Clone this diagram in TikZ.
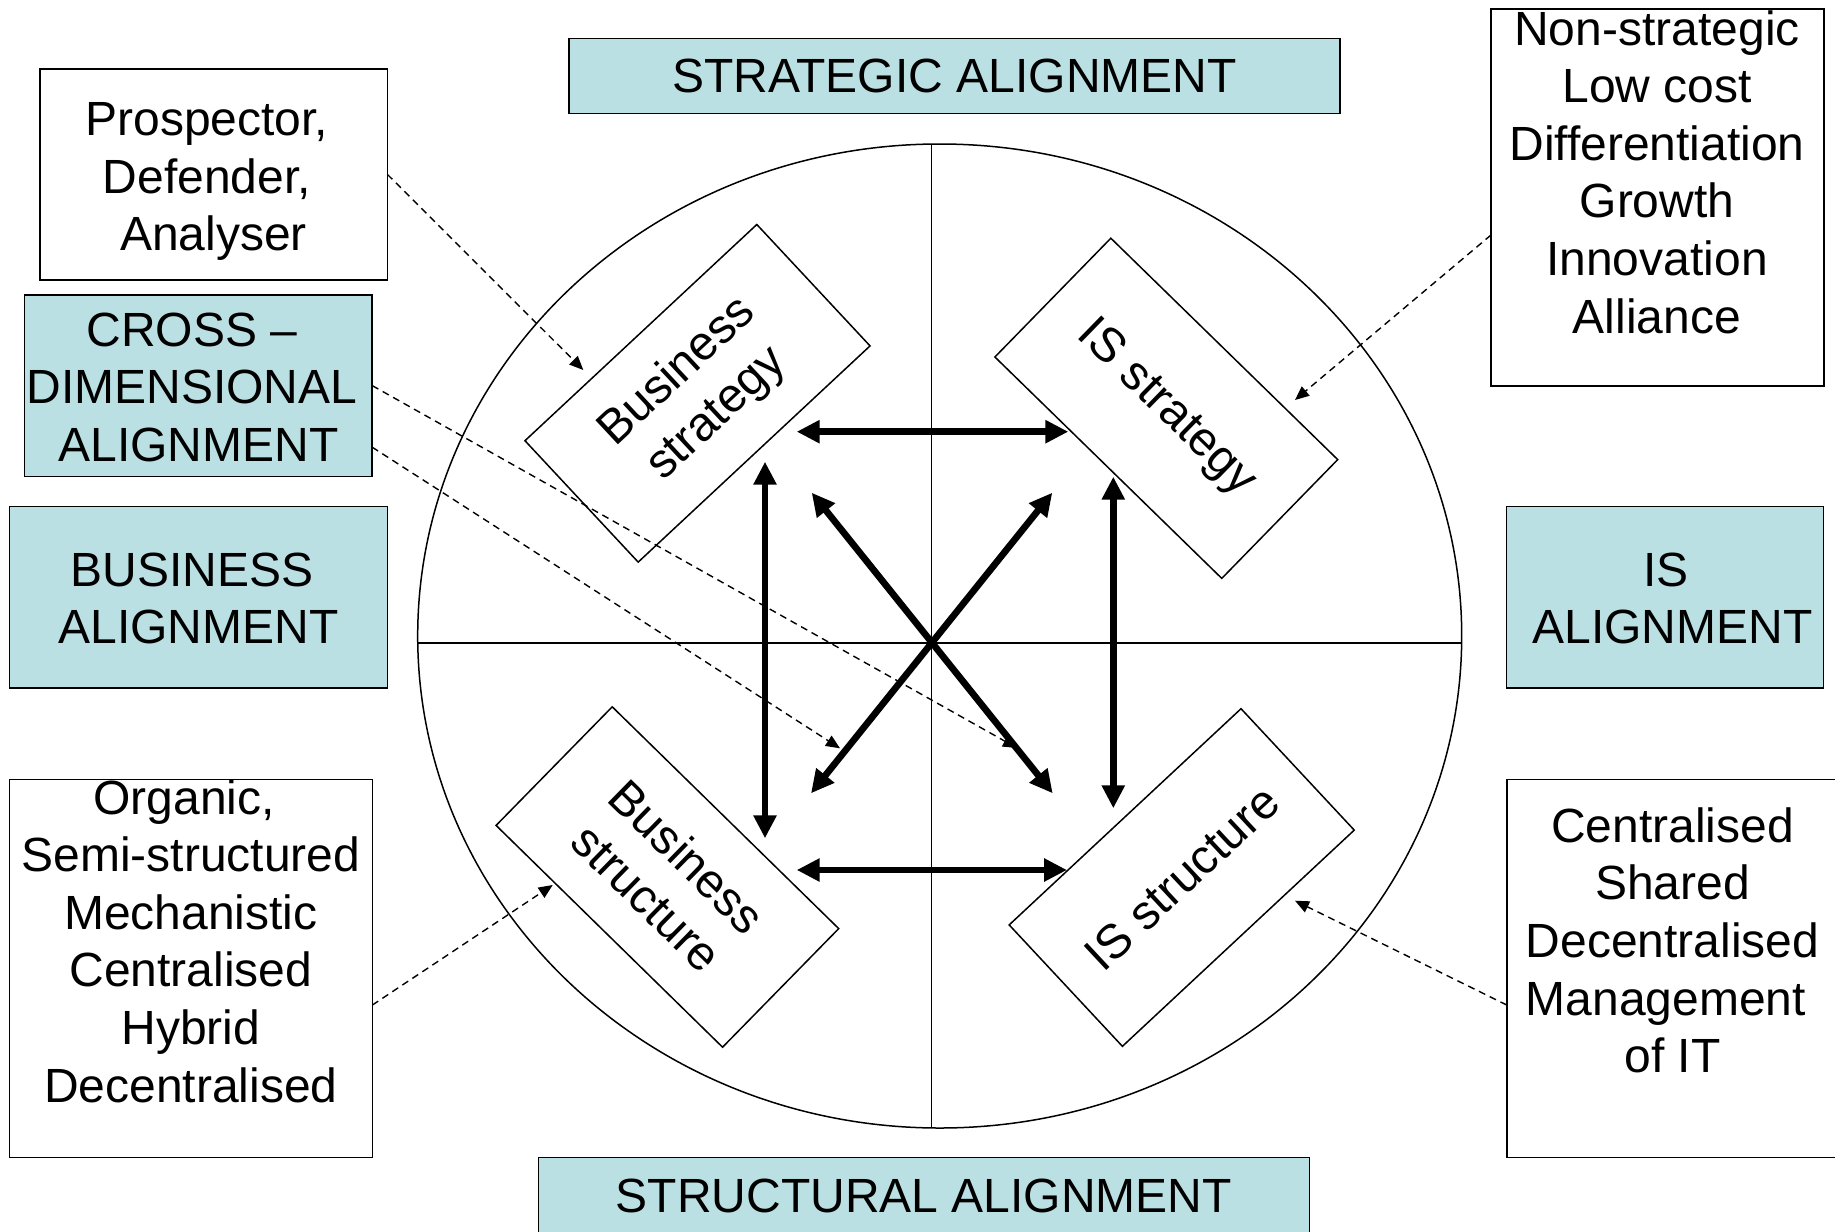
\documentclass[tikz,border=0pt]{standalone}
\usepackage{fontspec}
\setmainfont{Liberation Sans}
\usetikzlibrary{arrows.meta,calc}
\definecolor{tealfill}{RGB}{187,224,227}
\newcommand{\trail}{\kern13.3pt}
\tikzset{
  every node/.style={font=\fontsize{48}{57.6}\selectfont, inner sep=0pt, outer sep=0pt},
  plainbox/.style={draw=black, line width=1.5pt, rectangle},
  tealbox/.style={plainbox, fill=tealfill},
  txt/.style={align=center},
  rotbox/.style={draw=black, line width=1.5pt, rectangle, minimum width=317pt,
                 minimum height=166pt, align=center},
  link/.style={line width=6.7pt,
               {Triangle[length=23pt,width=22pt]}-{Triangle[length=23pt,width=22pt]}},
  hint/.style={line width=1.4pt, dash pattern=on 7pt off 5pt,
               -{Triangle[length=14pt,width=12pt]}},
  thinline/.style={line width=1.5pt}
}
\begin{document}
\begin{tikzpicture}[x=1pt,y=-1pt]
\useasboundingbox (0,0) rectangle (1835,1231);

% central circle split into quadrants
\draw[thinline] (939.7,636) ellipse [x radius=522pt, y radius=492pt];
\draw[thinline] (931.7,144.1) -- (931.7,1127.9);
\draw[thinline] (417.8,643) -- (1461.6,643);

% headline boxes
\node[tealbox, minimum width=771.2pt, minimum height=74.9pt] (strat) at (954.4,76.1) {STRATEGIC ALIGNMENT};
\node[tealbox, minimum width=771.3pt, minimum height=76.6pt] (struc) at (924,1195.7) {};
\node (structxt) at (924,1196) {STRUCTURAL ALIGNMENT};

% left column
\node[plainbox, minimum width=347.6pt, minimum height=210.7pt] (pros) at (213.6,174.4) {};
\node[txt] (prostxt) at (213.6,181.7) {Prospector,\trail\\Defender,\trail\\Analyser};

\node[tealbox, minimum width=347.6pt, minimum height=181.4pt] (cross) at (198.4,385.6) {};
\node[txt] (crosstxt) at (198.6,387.4) {CROSS --\trail\\DIMENSIONAL\trail\\ALIGNMENT};

\node[tealbox, minimum width=378pt, minimum height=181.4pt] (busal) at (198.4,597.4) {};
\node[txt] (busaltxt) at (198.4,598.6) {BUSINESS\trail\\ALIGNMENT};

\node[plainbox, minimum width=362.8pt, minimum height=378pt] (org) at (191,968.4) {};
\node[txt] (orgtxt) at (190.8,940.9) {Organic,\trail\\Semi-structured\\Mechanistic\\Centralised\\Hybrid\\Decentralised};

% right column
\node[plainbox, minimum width=333pt, minimum height=377pt] (nonstr) at (1657.5,197.5) {};
\node[txt] (nonstrtxt) at (1657,172) {Non-strategic\\Low cost\\Differentiation\\Growth\\Innovation\\Alliance};

\node[tealbox, minimum width=317.1pt, minimum height=181.4pt] (isal) at (1664.8,597.4) {};
\node[txt] (isaltxt) at (1672.4,598.6) {IS\trail\\ALIGNMENT};

\node[plainbox, minimum width=330.3pt, minimum height=378pt] (cent) at (1671.9,968.4) {};
\node[txt] (centtxt) at (1672.4,940.3) {Centralised\\Shared\\Decentralised\\Management\trail\\of IT};

% the four domains inside the circle
\node[rotbox, rotate=43] (bstrat) at (697.5,393.3) {Business\\strategy};
\node[rotbox, rotate=-44.3] (isstrat) at (1166.3,408.3) {IS strategy};
\node[rotbox, rotate=-44.4] (bstruc) at (667.4,877) {Business\\structure};
\node[rotbox, rotate=43] (isstruc) at (1181.7,877.5) {IS structure};

% end points of the alignment arrows
\coordinate (hTL) at (796.7,431.7);
\coordinate (hTR) at (1068.3,431.7);
\coordinate (hBL) at (796.7,870);
\coordinate (hBR) at (1067,870);
\coordinate (vLT) at (765,461.7);
\coordinate (vLB) at (765,838.3);
\coordinate (vRT) at (1113.3,476.7);
\coordinate (vRB) at (1113.3,808.3);
\coordinate (dUL) at (811.7,492.7);
\coordinate (dLR) at (1052.7,793.3);
\coordinate (dUR) at (1052.3,492.7);
\coordinate (dLL) at (811,793.3);

% tips of the dashed pointers
\coordinate (pBS) at (583.3,370);
\coordinate (pX1) at (1017,748);
\coordinate (pX2) at (840,748.3);
\coordinate (pBU) at (552.7,885);
\coordinate (pIS) at (1295,400);
\coordinate (pIU) at (1295,900.7);

% dashed pointers from the typologies
\draw[hint] (pros.east) -- (pBS);
\draw[hint] (cross.east) -- (pX1);
\draw[hint] ([yshift=-61.6pt]cross.east) -- (pX2);
\draw[hint] ([yshift=-36.6pt]org.east) -- (pBU);
\draw[hint] ([yshift=-37.5pt]nonstr.west) -- (pIS);
\draw[hint] ([yshift=-36.6pt]cent.west) -- (pIU);

% alignment arrows
\draw[link] (hTL) -- (hTR);
\draw[link] (hBL) -- (hBR);
\draw[link] (vLT) -- (vLB);
\draw[link] (vRT) -- (vRB);
\draw[link] (dUL) -- (dLR);
\draw[link] (dUR) -- (dLL);
\end{tikzpicture}
\end{document}
